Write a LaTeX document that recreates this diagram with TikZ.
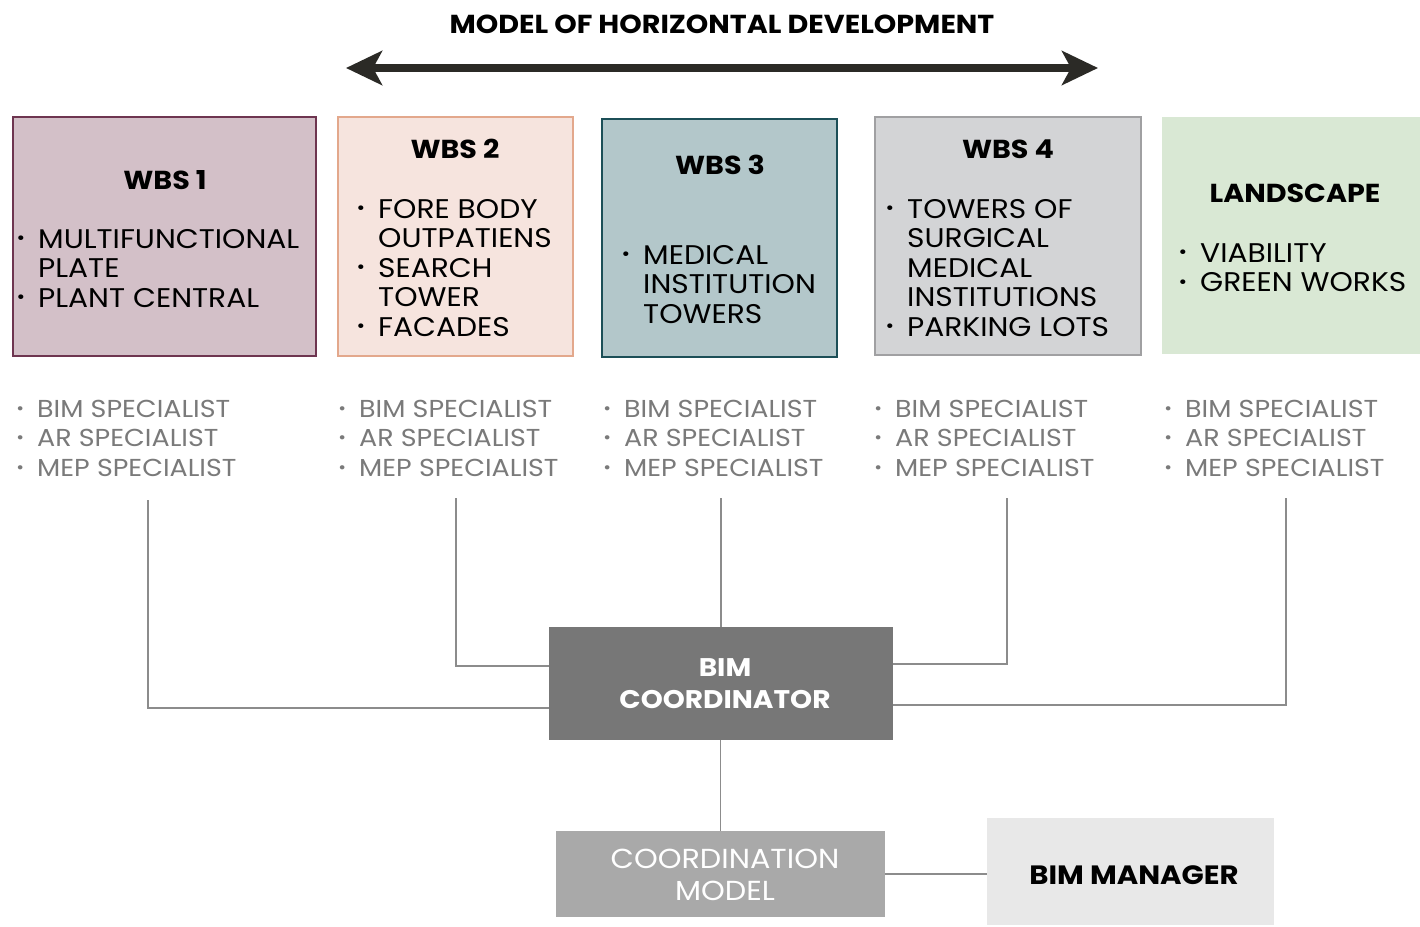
\documentclass[tikz,border=0pt]{standalone}
\usepackage{graphicx}
\usepackage{fontspec}
\setmainfont{Poppins}[FakeStretch=1.1]
\usetikzlibrary{arrows.meta}
\definecolor{fA}{HTML}{D3C0C8}\definecolor{bA}{HTML}{6E3550}
\definecolor{fB}{HTML}{F6E4DE}\definecolor{bB}{HTML}{E3A88C}
\definecolor{fC}{HTML}{B3C7CA}\definecolor{bC}{HTML}{1C4F57}
\definecolor{fD}{HTML}{D3D4D6}\definecolor{bD}{HTML}{A0A0A2}
\definecolor{fE}{HTML}{D9E8D4}
\definecolor{arr}{HTML}{2B2A26}
\definecolor{conncol}{HTML}{8C8C8C}
\definecolor{spec}{HTML}{7A7A7A}
\definecolor{bcfill}{HTML}{777777}
\definecolor{cmfill}{HTML}{A9A9A9}
\definecolor{bmfill}{HTML}{E8E8E8}
\newcommand{\bul}{\makebox[0pt][r]{\raisebox{0.12em}{\scalebox{0.7}{•}}\hspace{13pt}}}
\newcommand{\lst}[1]{\begin{tabular}[t]{@{}l@{}}#1\end{tabular}}
\begin{document}
\begin{tikzpicture}[x=1pt,y=-1pt,
  wbox/.style={draw, line width=2.2pt, minimum width=#1, inner sep=0pt},
  head/.style={anchor=base, inner sep=0pt, font=\fontsize{26}{30}\selectfont\bfseries},
  body/.style={anchor=base west, inner sep=0pt, font=\fontsize{27}{29.5}\selectfont},
  spc/.style={anchor=base west, inner sep=0pt, text=spec, font=\fontsize{24.5}{29.5}\selectfont},
  conn/.style={draw=conncol, line width=1.8pt}]
\useasboundingbox (0,0) rectangle (1420,926);
\fill[white] (0,0) rectangle (1420,926);
% title and arrow
\node[head] (title) at (722,33) {MODEL OF HORIZONTAL DEVELOPMENT};
\coordinate (al) at (346,68);
\coordinate (ar) at (1098,68);
\draw[arr, line width=8pt, {Stealth[length=36pt,width=34pt,inset=9pt]}-{Stealth[length=36pt,width=34pt,inset=9pt]}] (al) -- (ar);
% WBS boxes
\node[wbox=303, minimum height=239, fill=fA, draw=bA] (w1) at (164.5,236.5) {};
\node[wbox=235, minimum height=239, fill=fB, draw=bB] (w2) at (455.5,236.5) {};
\node[wbox=235, minimum height=238, fill=fC, draw=bC] (w3) at (719.5,238) {};
\node[wbox=266, minimum height=238, fill=fD, draw=bD] (w4) at (1008,236) {};
\node[wbox=258, minimum height=237, fill=fE, draw=none] (w5) at (1291,235.5) {};
% headers
\node[head] (h1) at (165,189) {WBS 1};
\node[head] (h2) at (455,158) {WBS 2};
\node[head] (h3) at (720,174) {WBS 3};
\node[head] (h4) at (1008,158) {WBS 4};
\node[head] (h5) at (1295,202) {LANDSCAPE};
% bodies
\node[body] (t1) at (38,248) {\lst{\bul MULTIFUNCTIONAL\\PLATE\\\bul PLANT CENTRAL}};
\node[body] (t2) at (378,218) {\lst{\bul FORE BODY\\OUTPATIENS\\\bul SEARCH\\TOWER\\\bul FACADES}};
\node[body] (t3) at (643,264) {\lst{\bul MEDICAL\\INSTITUTION\\TOWERS}};
\node[body] (t4) at (907,218) {\lst{\bul TOWERS OF\\SURGICAL\\MEDICAL\\INSTITUTIONS\\\bul PARKING LOTS}};
\node[body] (t5) at (1200,262) {\lst{\bul VIABILITY\\\bul GREEN WORKS}};
% specialists
\foreach \i/\x in {1/37,2/359,3/624,4/895,5/1185}{
  \node[spc] (s\i) at (\x,417) {\lst{\bul BIM SPECIALIST\\\bul AR SPECIALIST\\\bul MEP SPECIALIST}};
}
% coordinator etc
\node[fill=bcfill, minimum width=344, minimum height=113, inner sep=0pt] (bc) at (721,683.5) {};
\node[text=white, align=center, inner sep=0pt,
  font=\fontsize{25.5}{32}\selectfont\bfseries] (bct) at (725,684) {BIM\\COORDINATOR};
\node[fill=cmfill, minimum width=329, minimum height=86, inner sep=0pt] (cm) at (720.5,874) {};
\node[text=white, align=center, inner sep=0pt,
  font=\fontsize{27.5}{32}\selectfont] (cmt) at (725,875) {COORDINATION\\MODEL};
\node[fill=bmfill, minimum width=287, minimum height=107, inner sep=0pt] (bm) at (1130.5,871.5) {};
\node[inner sep=0pt, font=\fontsize{26.5}{32}\selectfont\bfseries] (bmt) at (1134,875) {BIM MANAGER};
% connectors
\coordinate (c1) at (148,500);
\coordinate (c2) at (456,498);
\coordinate (c3) at (721,498);
\coordinate (c4) at (1007,498);
\coordinate (c5) at (1286,498);
\draw[conn] (c1) |- (bc.west |- 0,708);
\draw[conn] (c2) |- (bc.west |- 0,666);
\draw[conn] (c3) -- (bc.north);
\draw[conn] (c4) |- (bc.east |- 0,664);
\draw[conn] (c5) |- (bc.east |- 0,705);
\draw[conn] (cm.north |- bc.south) -- (cm.north);
\draw[conn] (cm.east) -- (bm.west |- cm.east);
\end{tikzpicture}
\end{document}
